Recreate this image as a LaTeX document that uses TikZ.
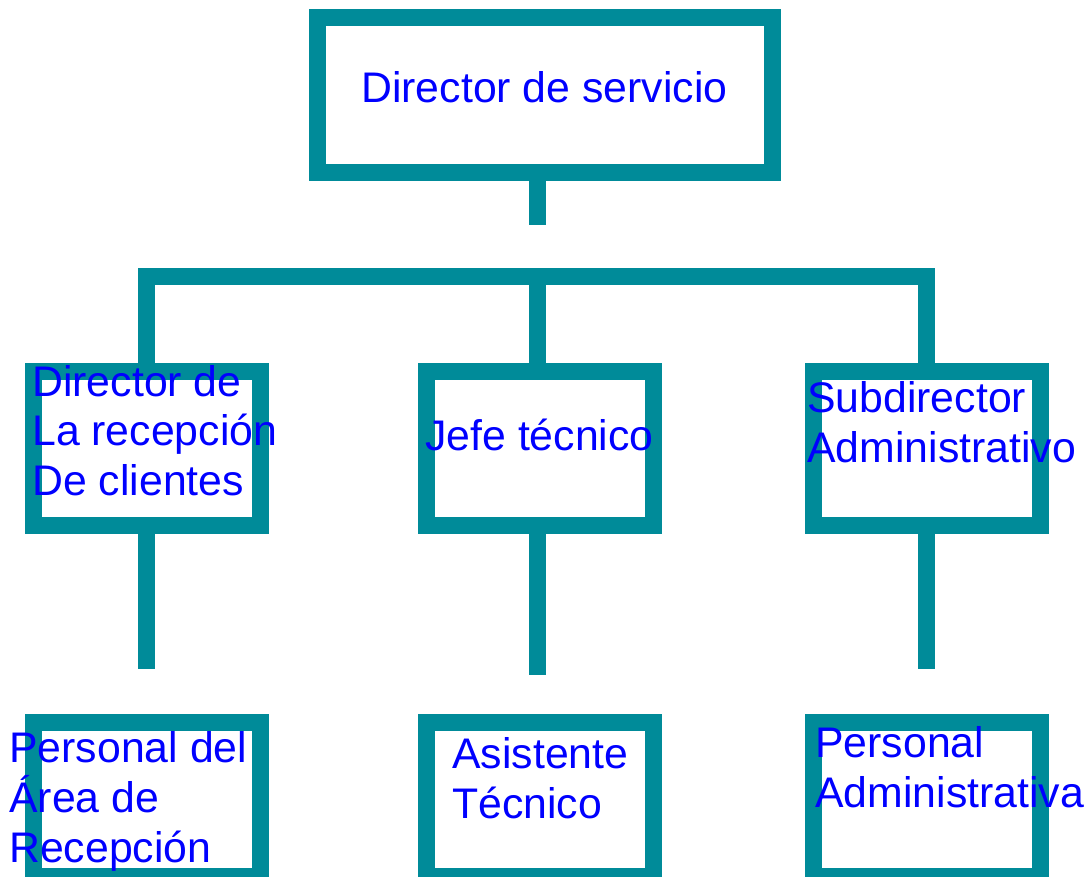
\documentclass[tikz,border=0pt]{standalone}
\usepackage{fontspec}
\setmainfont{Liberation Sans}
\definecolor{orgteal}{RGB}{0,139,153}
\begin{document}
\begin{tikzpicture}[x=0.75pt,y=0.75pt,yscale=-1,xscale=1,
    orgbox/.style={rectangle, draw=orgteal, line width=12.75pt, fill=white, inner sep=0pt, minimum width=170.6pt, minimum height=115.5pt},
    orgline/.style={draw=orgteal, line width=12.75pt, line join=miter},
    orgtext/.style={text=blue, font=\fontsize{32.1}{37.5}\selectfont, align=left, inner sep=0pt, anchor=base west}]
    \useasboundingbox (0,0) rectangle (1090,877);

    %Shape: Rectangle [id:top]
    \node [orgbox, minimum width=340.9pt, minimum height=115.9pt] (dir) at (544.75,94.75) {};
    %Shape: Rectangle [id:middle row]
    \node [orgbox] (recep) at (146.75,448.5) {};
    \node [orgbox] (jefe) at (540.25,448.5) {};
    \node [orgbox] (subdir) at (926.75,448.5) {};
    %Shape: Rectangle [id:bottom row]
    \node [orgbox] (persrec) at (146.75,799.25) {};
    \node [orgbox] (asist) at (540.25,799.25) {};
    \node [orgbox] (persadm) at (926.75,799.25) {};

    %Straight Lines [id:connector ends]
    \coordinate (hub) at (537,225);
    \coordinate (bar) at (537,276.5);
    \coordinate (endrec) at (146.75,669);
    \coordinate (endjefe) at (537,675);
    \coordinate (endsub) at (926.75,669);
    %Straight Lines [id:top drop]
    \draw [orgline] (dir.south -| hub) -- (hub) ;
    %Straight Lines [id:bar]
    \draw [orgline] (recep.north) |- (bar) -| (subdir.north) ;
    \draw [orgline] (bar) -- (jefe.north -| bar) ;
    %Straight Lines [id:lower drops]
    \draw [orgline] (recep.south) -- (endrec) ;
    \draw [orgline] (jefe.south -| endjefe) -- (endjefe) ;
    \draw [orgline] (subdir.south) -- (endsub) ;

    %Text (base = last line)
    \node [orgtext] (tdir) at (361,103) {Director de servicio};
    \node [orgtext] (trecep) at (32,496) {Director de\\La recepción\\De clientes};
    \node [orgtext] (tjefe) at (425,451) {Jefe técnico};
    \node [orgtext] (tsubdir) at (807,463) {Subdirector\\Administrativo};
    \node [orgtext] (tpersrec) at (9,862) {Personal del\\Área de\\Recepción};
    \node [orgtext] (tasist) at (452,818) {Asistente\\Técnico};
    \node [orgtext] (tpersadm) at (815,807) {Personal\\Administrativa};

\end{tikzpicture}
\end{document}
